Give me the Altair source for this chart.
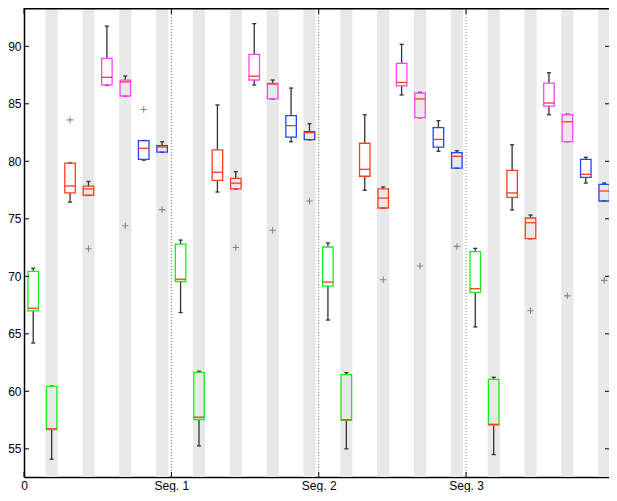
import json
import altair as alt
import pandas as pd

# ---------------- data ----------------
seg_ticks = [0.5, 8.5, 16.5, 24.5]
seg_labels = ["0", "Seg. 1", "Seg. 2", "Seg. 3"]
y_ticks = [55, 60, 65, 70, 75, 80, 85, 90]

groups = ["green", "green", "red", "red", "magenta", "magenta", "blue", "blue"] * 4

lo = [64.2, 54.1, 76.45, 77.03, 86.6, 85.66, 80.1, 80.79,
      66.85, 55.25, 77.33, 77.59, 86.63, 85.41, 81.7, 81.87,
      66.2, 55.0, 77.48, 75.93, 85.77, 83.79, 80.87, 79.39,
      65.6, 54.5, 75.77, 73.26, 84.05, 81.7, 78.11, 76.54]
q1 = [67.0, 56.68, 77.25, 77.05, 86.65, 85.68, 80.17, 80.8,
      69.55, 57.55, 78.35, 77.6, 87.07, 85.42, 82.1, 81.88,
      69.15, 57.48, 78.7, 75.94, 86.55, 83.8, 81.24, 79.4,
      68.6, 57.07, 76.87, 73.27, 84.8, 81.71, 78.6, 76.55]
med = [67.22, 56.74, 77.85, 77.6, 87.3, 86.9, 81.13, 81.24,
       69.75, 57.75, 79.05, 78.1, 87.4, 86.72, 83.1, 82.49,
       69.5, 57.53, 79.3, 76.8, 86.85, 85.42, 81.9, 80.43,
       68.92, 57.13, 77.25, 74.66, 85.07, 83.44, 78.87, 77.42]
q3 = [70.43, 60.43, 79.85, 77.85, 88.95, 87.05, 81.8, 81.36,
      72.8, 61.65, 81.0, 78.52, 89.3, 86.78, 83.97, 82.57,
      72.55, 61.45, 81.57, 77.6, 88.52, 85.94, 82.92, 80.75,
      72.14, 61.04, 79.22, 75.07, 86.8, 84.05, 80.17, 78.0]
hi = [70.7, 60.45, 79.86, 78.25, 91.75, 87.42, 81.81, 81.7,
      73.15, 61.75, 84.9, 79.1, 91.97, 87.07, 86.37, 83.27,
      72.9, 61.62, 84.05, 77.77, 90.17, 86.0, 83.53, 80.92,
      72.43, 61.22, 81.44, 75.33, 87.7, 84.1, 80.35, 78.11]

out_box = [3, 4, 6, 7, 8, 12, 14, 16, 20, 22, 24, 28, 30, 32]
out_val = [83.6, 72.4, 74.4, 84.5, 75.8, 72.5, 74.0, 76.55,
           69.7, 70.9, 72.6, 67.0, 68.3, 69.65]

color_names = ["green", "red", "magenta", "blue"]
color_values = ["#1aee1a", "#ff3d1f", "#ff44ff", "#2244ff"]

# ---------------- tables ----------------
df = pd.DataFrame({"box": list(range(1, len(lo) + 1)), "group": groups,
                   "lo": lo, "q1": q1, "med": med, "q3": q3, "hi": hi})
out_df = pd.DataFrame({"box": out_box, "val": out_val})
seg_df = pd.DataFrame({"pos": seg_ticks})
ytick_df = pd.DataFrame({"v": y_ticks})
one_df = pd.DataFrame({"k": [0]})

W, H = 585, 469
FONT = "Liberation Sans"

xs = alt.Scale(domain=[0.5, 32.26], nice=False, zero=False)
ys = alt.Scale(domain=[52.55, 93.33], nice=False, zero=False)
cs = alt.Scale(domain=color_names, range=color_values)

label_expr = f"{json.dumps(seg_labels)}[indexof({json.dumps(seg_ticks)}, datum.value)]"
x_axis = alt.Axis(values=seg_ticks, labelExpr=label_expr, ticks=False, grid=False,
                  title=None, labelFlush=False, labelOverlap=False, labelPadding=3,
                  domainColor="black", domainWidth=1.5, labelFont=FONT,
                  labelFontSize=12, labelColor="black")
y_axis = alt.Axis(values=y_ticks, ticks=False, grid=False, title=None,
                  labelPadding=3, domainColor="black", domainWidth=1.5,
                  labelFont=FONT, labelFontSize=12, labelColor="black",
                  labelFlush=False, labelOverlap=False)


def X(f):
    return alt.X(f"{f}:Q", scale=xs, axis=x_axis)


def Y(f):
    return alt.Y(f"{f}:Q", scale=ys, axis=y_axis)


base = alt.Chart(df)

stripes = base.transform_filter("datum.box % 2 == 0").transform_calculate(
    a="datum.box - 0.33", b="datum.box + 0.33"
).mark_rect(color="#e8e8e8").encode(
    x=X("a"), x2="b:Q", y=alt.value(0), y2=alt.value(H)
)

dotted = alt.Chart(seg_df).transform_filter("datum.pos > 1").mark_rule(
    color="#777777", strokeDash=[1, 2], strokeWidth=1
).encode(x=X("pos"))

wh_up = base.mark_rule(color="#333333", strokeWidth=1.3).encode(
    x=X("box"), y=Y("q3"), y2="hi:Q")
wh_lo = base.mark_rule(color="#333333", strokeWidth=1.3).encode(
    x=X("box"), y=Y("lo"), y2="q1:Q")

capbase = base.transform_calculate(c1="datum.box - 0.11", c2="datum.box + 0.11")
cap_up = capbase.mark_rule(color="#333333", strokeWidth=1.3).encode(
    x=X("c1"), x2="c2:Q", y=Y("hi"))
cap_lo = capbase.mark_rule(color="#333333", strokeWidth=1.3).encode(
    x=X("c1"), x2="c2:Q", y=Y("lo"))

boxbase = base.transform_calculate(b1="datum.box - 0.285", b2="datum.box + 0.285")
boxes = boxbase.mark_rect(fillOpacity=0, strokeWidth=1.3).encode(
    x=X("b1"), x2="b2:Q", y=Y("q1"), y2="q3:Q",
    stroke=alt.Stroke("group:N", scale=cs, legend=None)
)
medians = boxbase.mark_rule(color="#ff3a1a", strokeWidth=1.3).encode(
    x=X("b1"), x2="b2:Q", y=Y("med"))

outliers = alt.Chart(out_df).mark_point(
    shape="M-1,0L1,0M0,-1L0,1", size=42, filled=False, color="#888888",
    strokeWidth=1.1, opacity=1
).encode(x=X("box"), y=Y("val"))

ytick_l = alt.Chart(ytick_df).mark_rule(color="black", strokeWidth=1).encode(
    x=alt.value(0), x2=alt.value(5), y=Y("v"))
ytick_r = alt.Chart(ytick_df).mark_rule(color="black", strokeWidth=1).encode(
    x=alt.value(W - 4), x2=alt.value(W), y=Y("v"))
xtick_b = alt.Chart(seg_df).mark_rule(color="black", strokeWidth=1).encode(
    x=X("pos"), y=alt.value(H - 5), y2=alt.value(H))
xtick_t = alt.Chart(seg_df).mark_rule(color="black", strokeWidth=1).encode(
    x=X("pos"), y=alt.value(0), y2=alt.value(6))
top_line = alt.Chart(one_df).mark_rule(color="black", strokeWidth=1.5).encode(
    x=alt.value(0), x2=alt.value(W), y=alt.value(0.75))

chart = alt.layer(
    stripes, dotted, wh_up, wh_lo, cap_up, cap_lo, boxes, medians, outliers,
    ytick_l, ytick_r, xtick_b, xtick_t, top_line
).properties(
    width=W, height=H,
    padding={"left": 16, "top": 0, "right": 0, "bottom": 15},
    autosize=alt.AutoSizeParams(type="none"),
    background="white"
).configure_view(stroke=None)

chart.save("out.html", embed_options={"renderer": "svg", "actions": False})
